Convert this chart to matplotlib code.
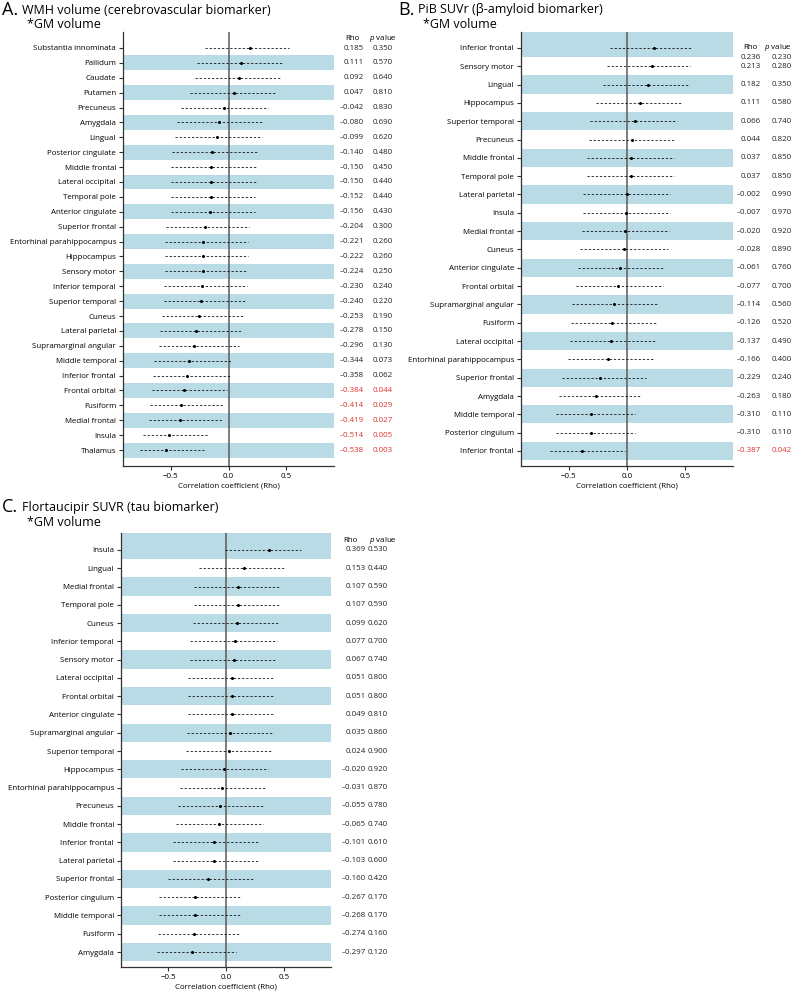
import matplotlib
matplotlib.use('Agg')
import matplotlib.pyplot as plt
import matplotlib.transforms as mtransforms

plt.rcParams['font.family'] = ['Open Sans', 'DejaVu Sans']
plt.rcParams['mathtext.fontset'] = 'custom'
plt.rcParams['mathtext.it'] = 'Open Sans:italic'
plt.rcParams['mathtext.rm'] = 'Open Sans'

# === DATA ===
# Panel A: WMH volume
a_regions = ['Substantia innominata', 'Pallidum', 'Caudate', 'Putamen', 'Precuneus', 'Amygdala',
             'Lingual', 'Posterior cingulate', 'Middle frontal', 'Lateral occipital', 'Temporal pole',
             'Anterior cingulate', 'Superior frontal', 'Entorhinal parahippocampus', 'Hippocampus',
             'Sensory motor', 'Inferior temporal', 'Superior temporal', 'Cuneus', 'Lateral parietal',
             'Supramarginal angular', 'Middle temporal', 'Inferior frontal', 'Frontal orbital',
             'Fusiform', 'Medial frontal', 'Insula', 'Thalamus']
a_rho = [0.185, 0.111, 0.092, 0.047, -0.042, -0.080, -0.099, -0.140, -0.150, -0.150, -0.152,
         -0.156, -0.204, -0.221, -0.222, -0.224, -0.230, -0.240, -0.253, -0.278, -0.296, -0.344,
         -0.358, -0.384, -0.414, -0.419, -0.514, -0.538]
a_p = [0.350, 0.570, 0.640, 0.810, 0.830, 0.690, 0.620, 0.480, 0.450, 0.440, 0.440, 0.430, 0.300,
       0.260, 0.260, 0.250, 0.240, 0.220, 0.190, 0.150, 0.130, 0.073, 0.062, 0.044, 0.029, 0.027,
       0.005, 0.003]
a_lo = [-0.20, -0.27, -0.29, -0.33, -0.41, -0.44, -0.46, -0.49, -0.50, -0.50, -0.50, -0.50, -0.54,
        -0.55, -0.55, -0.55, -0.56, -0.56, -0.57, -0.59, -0.60, -0.64, -0.65, -0.66, -0.68, -0.69,
        -0.74, -0.76]
a_hi = [0.52, 0.47, 0.45, 0.41, 0.34, 0.30, 0.29, 0.25, 0.24, 0.24, 0.23, 0.23, 0.18, 0.17, 0.17,
        0.16, 0.16, 0.15, 0.13, 0.11, 0.09, 0.03, 0.02, -0.01, -0.05, -0.06, -0.17, -0.21]

# Panel B: PiB SUVr
b_regions = ['Inferior frontal', 'Sensory motor', 'Lingual', 'Hippocampus', 'Superior temporal',
             'Precuneus', 'Middle frontal', 'Temporal pole', 'Lateral parietal', 'Insula',
             'Medial frontal', 'Cuneus', 'Anterior cingulate', 'Frontal orbital',
             'Supramarginal angular', 'Fusiform', 'Lateral occipital', 'Entorhinal parahippocampus',
             'Superior frontal', 'Amygdala', 'Middle temporal', 'Posterior cingulum', 'Inferior frontal']
b_rho = [0.236, 0.213, 0.182, 0.111, 0.066, 0.044, 0.037, 0.037, -0.002, -0.007, -0.020, -0.028,
         -0.061, -0.077, -0.114, -0.126, -0.137, -0.166, -0.229, -0.263, -0.310, -0.310, -0.387]
b_p = [0.230, 0.280, 0.350, 0.580, 0.740, 0.820, 0.850, 0.850, 0.990, 0.970, 0.920, 0.890, 0.760,
       0.700, 0.560, 0.520, 0.490, 0.400, 0.240, 0.180, 0.110, 0.110, 0.042]
b_lo = [-0.15, -0.17, -0.21, -0.27, -0.32, -0.33, -0.34, -0.34, -0.38, -0.38, -0.39, -0.40, -0.42,
        -0.44, -0.47, -0.48, -0.49, -0.51, -0.56, -0.58, -0.61, -0.61, -0.66]
b_hi = [0.56, 0.54, 0.52, 0.47, 0.43, 0.41, 0.40, 0.40, 0.37, 0.37, 0.36, 0.35, 0.32, 0.31, 0.27,
        0.26, 0.25, 0.22, 0.16, 0.12, 0.07, 0.07, -0.02]

# Panel C: Flortaucipir SUVR
c_regions = ['Insula', 'Lingual', 'Medial frontal', 'Temporal pole', 'Cuneus', 'Inferior temporal',
             'Sensory motor', 'Lateral occipital', 'Frontal orbital', 'Anterior cingulate',
             'Supramarginal angular', 'Superior temporal', 'Hippocampus', 'Entorhinal parahippocampus',
             'Precuneus', 'Middle frontal', 'Inferior frontal', 'Lateral parietal', 'Superior frontal',
             'Posterior cingulum', 'Middle temporal', 'Fusiform', 'Amygdala']
c_rho = [0.369, 0.153, 0.107, 0.107, 0.099, 0.077, 0.067, 0.051, 0.051, 0.049, 0.035, 0.024,
         -0.020, -0.031, -0.055, -0.065, -0.101, -0.103, -0.160, -0.267, -0.268, -0.274, -0.297]
c_p = [0.530, 0.440, 0.590, 0.590, 0.620, 0.700, 0.740, 0.800, 0.800, 0.810, 0.860, 0.900, 0.920,
       0.870, 0.780, 0.740, 0.610, 0.600, 0.420, 0.170, 0.170, 0.160, 0.120]
c_lo = [-0.01, -0.23, -0.28, -0.28, -0.29, -0.31, -0.31, -0.33, -0.33, -0.33, -0.34, -0.35, -0.39,
        -0.40, -0.42, -0.43, -0.46, -0.46, -0.50, -0.58, -0.58, -0.59, -0.60]
c_hi = [0.65, 0.50, 0.46, 0.46, 0.46, 0.44, 0.43, 0.42, 0.42, 0.41, 0.40, 0.39, 0.36, 0.35, 0.33,
        0.32, 0.28, 0.28, 0.23, 0.12, 0.12, 0.11, 0.09]

BAND = '#b9dbe6'
RED = '#e0312b'
W, H = 795, 992
FS = 5.7


def fmt(v):
    s = f"{abs(v):.3f}"
    return ('\u2013' + s) if v < 0 else s


def shift(dy_px):
    # positive = move up, in pixels
    return mtransforms.ScaledTranslation(0, dy_px / 100, fig.dpi_scale_trans)


def forest(rect, regions, rho, pv, lo, hi, shade_first, off_top, off_bot,
           rho_x, p_x, hdr_x, header_dy, first_dy):
    left, top, right, bottom = rect
    ax = fig.add_axes([left / W, 1 - bottom / H, (right - left) / W, (bottom - top) / H])
    n = len(regions)
    ys = list(range(n))
    ax.set_xlim(-0.91, 0.91)
    ax.set_ylim(n - 1 + off_bot, -off_top)

    for i in ys:
        if (i % 2 == 0) == shade_first:
            y0 = -off_top if i == 0 else i - 0.5
            ax.axhspan(y0, i + 0.5, color=BAND, lw=0, zorder=0)

    ax.axvline(0, color='#5a5a5a', lw=1.1, zorder=1)
    ax.hlines(ys, lo, hi, colors='black', linestyles=(0, (3, 2.4)), lw=0.55, zorder=2)
    ax.plot(rho, ys, 'o', color='black', ms=1.2, zorder=3)

    ax.set_yticks(ys)
    ax.set_yticklabels(regions, fontsize=FS)
    ax.set_xticks([-0.5, 0.0, 0.5])
    ax.tick_params(axis='both', labelsize=FS, length=3, width=0.8, pad=2, color='#333333')
    ax.set_xlabel('Correlation coefficient (Rho)', fontsize=FS, labelpad=1.5)
    for s in ['top', 'right']:
        ax.spines[s].set_visible(False)
    for s in ['left', 'bottom']:
        ax.spines[s].set_color('#333333')
        ax.spines[s].set_linewidth(0.9)

    tr = mtransforms.blended_transform_factory(ax.transAxes, ax.transData)
    ax.text(hdr_x[0], 0, 'Rho', transform=tr + shift(header_dy), ha='center', va='center',
            fontsize=FS, clip_on=False)
    ax.text(hdr_x[1], 0, '$p$ value', transform=tr + shift(header_dy), ha='center', va='center',
            fontsize=FS, clip_on=False)
    for i in ys:
        col = RED if pv[i] < 0.05 else '#222222'
        dy = -first_dy if i == 0 else 0
        ax.text(rho_x, i, fmt(rho[i]), transform=tr + shift(dy), ha='right', va='center',
                fontsize=FS, color=col, clip_on=False)
        ax.text(p_x, i, f"{pv[i]:.3f}", transform=tr + shift(dy), ha='right', va='center',
                fontsize=FS, color=col, clip_on=False)
    return ax


fig = plt.figure(figsize=(W / 100, H / 100), dpi=100)

forest((123, 32, 334, 466), a_regions, a_rho, a_p, a_lo, a_hi, False, 1.07, 1.07,
       1.142, 1.280, (1.088, 1.230), 9, 1)
forest((521, 32, 733, 466), b_regions, b_rho, b_p, b_lo, b_hi, True, 0.87, 0.82,
       1.132, 1.278, (1.083, 1.212), 0, 10)
forest((121, 533, 331, 967), c_regions, c_rho, c_p, c_lo, c_hi, True, 0.93, 0.82,
       1.167, 1.271, (1.093, 1.245), 9, 0)


# panel titles
def title(x, y, letter, line1):
    fig.text(x / W, 1 - y / H, letter, fontsize=13, va='center', ha='left')
    fig.text((x + 20) / W, 1 - y / H, line1, fontsize=9.0, va='center', ha='left')
    fig.text((x + 25) / W, 1 - (y + 15) / H, '*GM volume', fontsize=9.0, va='center', ha='left')


title(2, 10, 'A.', 'WMH volume (cerebrovascular biomarker)')
title(398, 10, 'B.', 'PiB SUVr (\u03b2-amyloid biomarker)')
title(2, 507, 'C.', 'Flortaucipir SUVR (tau biomarker)')

fig.savefig('out.png', dpi=100, facecolor='white')
